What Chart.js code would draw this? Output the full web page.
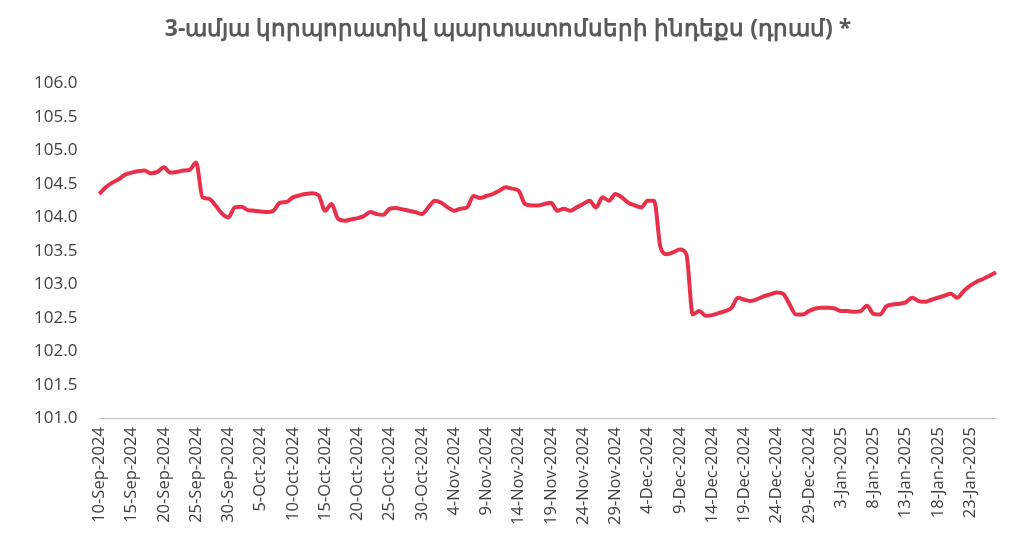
<!DOCTYPE html>
<html><head><meta charset="utf-8">
<script src="https://cdn.jsdelivr.net/npm/chart.js@4/dist/chart.umd.min.js"></script>
<style>html,body{margin:0;background:#fff}#w{width:1024px;height:536px}</style>
</head><body><div id="w"><canvas id="c"></canvas></div>
<script>
const titleText = "3-ամյա կորպորատիվ պարտատոմսերի ինդեքս (դրամ) *";
const startDate = [2024, 8, 10];
const yTicks = [101.0, 101.5, 102.0, 102.5, 103.0, 103.5, 104.0, 104.5, 105.0, 105.5, 106.0];
const values = [104.35,104.45,104.52,104.57,104.64,104.67,104.69,104.70,104.66,104.68,
104.75,104.67,104.68,104.70,104.71,104.82,104.30,104.28,104.18,104.06,
104.00,104.15,104.16,104.11,104.10,104.09,104.08,104.10,104.22,104.23,
104.30,104.33,104.35,104.36,104.33,104.10,104.20,103.98,103.95,103.97,
103.99,104.02,104.08,104.05,104.04,104.13,104.14,104.12,104.10,104.08,
104.05,104.15,104.25,104.22,104.15,104.10,104.13,104.15,104.32,104.29,
104.32,104.35,104.40,104.45,104.43,104.40,104.20,104.18,104.18,104.20,
104.22,104.10,104.13,104.10,104.15,104.20,104.25,104.15,104.30,104.25,
104.35,104.30,104.22,104.18,104.15,104.25,104.25,103.55,103.45,103.48,
103.52,103.45,102.55,102.60,102.53,102.54,102.57,102.60,102.65,102.80,
102.77,102.75,102.78,102.82,102.85,102.88,102.86,102.70,102.55,102.55,
102.60,102.64,102.65,102.65,102.64,102.60,102.60,102.59,102.60,102.68,
102.56,102.55,102.67,102.70,102.71,102.73,102.80,102.75,102.74,102.77,
102.80,102.83,102.86,102.80,102.90,102.98,103.04,103.08,103.13,103.18];
const months = ["Jan","Feb","Mar","Apr","May","Jun","Jul","Aug","Sep","Oct","Nov","Dec"];
const categories = values.map((v,i)=>{const d=new Date(startDate[0],startDate[1],startDate[2]+i);
  return d.getDate()+"-"+months[d.getMonth()]+"-"+d.getFullYear();});
new Chart(document.getElementById('c'),{
  type:'line',
  data:{labels:categories,datasets:[{data:values,borderColor:'#E8304A',borderWidth:4,pointRadius:0,tension:0.3,cubicInterpolationMode:'monotone'}]},
  options:{responsive:true,maintainAspectRatio:false,animation:false,
    layout:{padding:{left:20,right:28,top:12,bottom:8}},
    plugins:{legend:{display:false},tooltip:{enabled:false},
      title:{display:true,text:titleText,color:'#595959',font:{family:'Open Sans',size:23,weight:'bold'},padding:{top:4,bottom:40}}},
    scales:{
      x:{grid:{display:false,drawTicks:true,tickLength:6,tickColor:'#bfbfbf'},border:{color:'#bfbfbf'},
        ticks:{autoSkip:false,maxRotation:90,minRotation:90,color:'#404040',font:{family:'Open Sans',size:16.5},
          callback:(v,i)=> i%5===0?categories[i]:''}},
      y:{min:101,max:106,grid:{display:false},border:{display:false},
        afterBuildTicks:a=>{a.ticks=yTicks.map(v=>({value:v}));},
        ticks:{color:'#404040',font:{family:'Open Sans',size:17},padding:14,callback:v=>Number(v).toFixed(1)}}
    }}
});
</script></body></html>
